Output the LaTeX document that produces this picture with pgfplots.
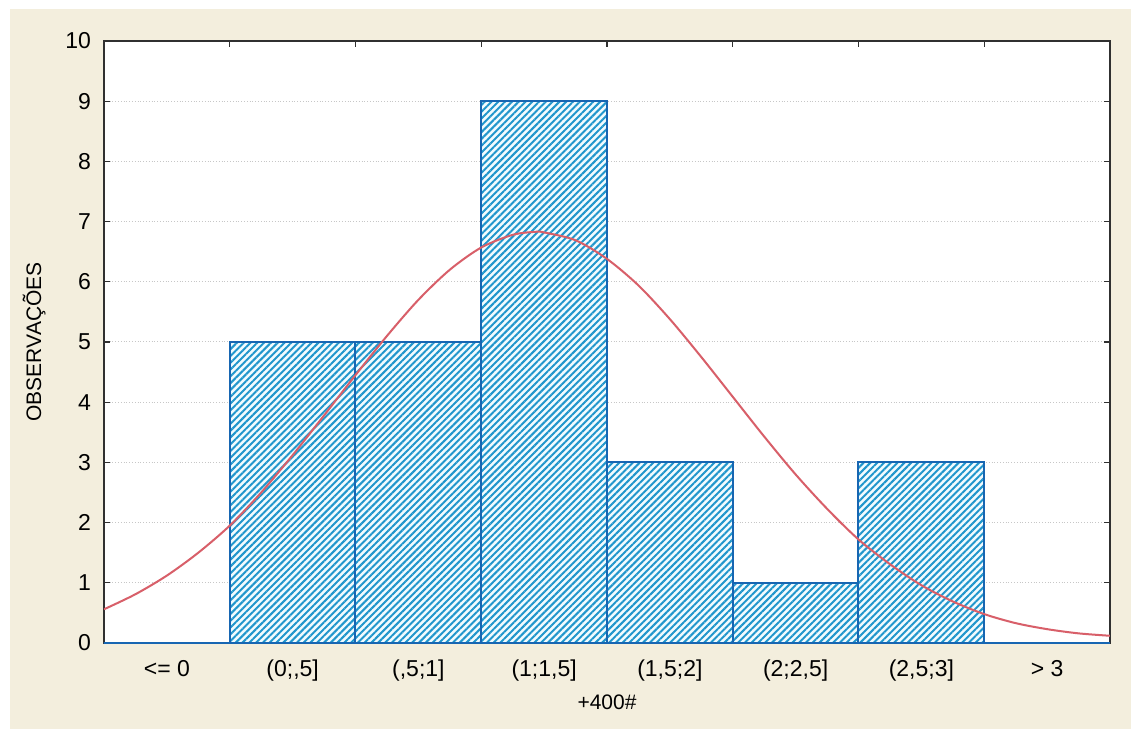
\documentclass[border=0pt]{standalone}
\usepackage{fontspec}
\setmainfont{Liberation Sans}
\usepackage{pgfplots}
\pgfplotsset{compat=1.18}
\usetikzlibrary{patterns.meta}

\definecolor{paper}{HTML}{F3EEDD}
\definecolor{hatchblue}{HTML}{2096CC}
\definecolor{barfill}{HTML}{F2FBFE}
\definecolor{baredge}{HTML}{1766B2}
\definecolor{curvered}{HTML}{D85F69}
\definecolor{axisgray}{HTML}{303030}

\begin{document}
\begin{tikzpicture}
% page background
\fill[white] (0pt,0pt) rectangle (565.5pt,364.5pt);
\fill[paper] (5pt,0pt) rectangle (565.5pt,360pt);
\begin{axis}[
  at={(52pt,43pt)}, anchor=south west,
  scale only axis, width=503pt, height=301pt,
  xmin=-0.5, xmax=7.5, ymin=0, ymax=10,
  axis background/.style={fill=white},
  axis line style={axisgray, line width=0.8pt},
  tick align=inside, tick pos=both,
  xticklabel pos=lower, yticklabel pos=left,
  ytick={0,...,10},
  xtick={0,...,7},
  xticklabels={{<= 0},{(0;,5]},{(,5;1]},{(1;1,5]},{(1,5;2]},{(2;2,5]},{(2,5;3]},{> 3}},
  major x tick style={draw=none},
  minor xtick={0.5,1.5,...,6.5},
  minor tick length=3pt, major tick length=3pt,
  every tick/.style={axisgray, line width=0.6pt},
  ymajorgrids,
  major grid style={densely dotted, black!22, line width=0.5pt},
  /pgf/number format/assume math mode=true,
  ticklabel style={font=\fontsize{11.5}{13}\selectfont},
  yticklabel style={xshift=-3pt},
  xticklabel style={yshift=-5pt},
  xlabel={+400\#}, ylabel={OBSERVAÇÕES},
  label style={font=\fontsize{10.5}{12}\selectfont},
  xlabel style={yshift=0pt},
  ylabel style={yshift=3pt},
]
% frequency histogram
\addplot[ybar, bar width=1, bar shift=0pt,
  draw=baredge, line width=1pt, fill=barfill,
  postaction={pattern={Lines[angle=45,distance=2.4pt,line width=1.0pt]}, pattern color=hatchblue}]
  coordinates {(0,0) (1,5) (2,5) (3,9) (4,3) (5,1) (6,3) (7,0)};
% fitted normal curve
\addplot[smooth, curvered, line width=1pt] coordinates {
  (-0.5,0.56) (-0.25,0.81) (0,1.12) (0.25,1.50) (0.5,1.95) (0.75,2.50)
  (1,3.12) (1.25,3.78) (1.5,4.45) (1.75,5.10) (2,5.70) (2.25,6.20)
  (2.5,6.57) (2.75,6.78) (2.93,6.83) (3,6.82) (3.25,6.69) (3.5,6.38)
  (3.75,5.94) (4,5.38) (4.25,4.75) (4.5,4.09) (4.75,3.43) (5,2.80)
  (5.25,2.23) (5.5,1.72) (5.75,1.31) (6,0.96) (6.25,0.69) (6.5,0.48)
  (6.75,0.33) (7,0.23) (7.25,0.16) (7.5,0.12)};
\end{axis}
\end{tikzpicture}
\end{document}
